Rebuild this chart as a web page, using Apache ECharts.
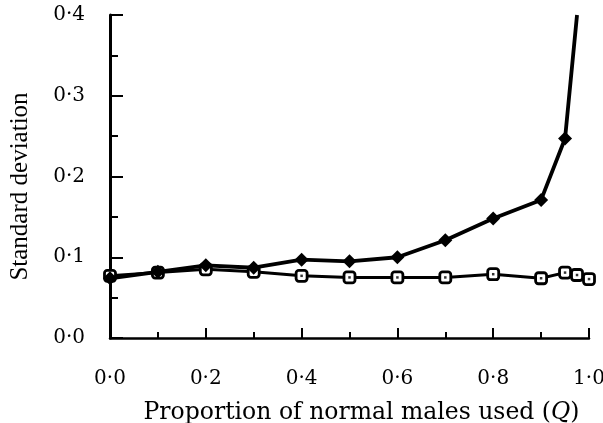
<!DOCTYPE html>
<html>
<head>
<meta charset="utf-8">
<script src="https://cdn.jsdelivr.net/npm/echarts@6/dist/echarts.min.js"></script>
<style>
  html, body { margin: 0; padding: 0; background: #fff; }
  #chart { width: 603px; height: 423px; }
</style>
</head>
<body>
<div id="chart"></div>
<script>
// Proportion of normal males used (Q)
const qFilled = [0.0, 0.1, 0.2, 0.3, 0.4, 0.5, 0.6, 0.7, 0.8, 0.9, 0.95, 0.975];
const sdFilled = [0.074, 0.082, 0.090, 0.087, 0.097, 0.095, 0.100, 0.121, 0.148, 0.171, 0.247, 0.400];

const qOpen = [0.0, 0.1, 0.2, 0.3, 0.4, 0.5, 0.6, 0.7, 0.8, 0.9, 0.95, 0.975, 1.0];
const sdOpen = [0.077, 0.081, 0.085, 0.082, 0.077, 0.075, 0.075, 0.075, 0.079, 0.074, 0.081, 0.078, 0.073];

const xTicks = [0.0, 0.2, 0.4, 0.6, 0.8, 1.0];
const yTicks = [0.0, 0.1, 0.2, 0.3, 0.4];

const serif = '"DejaVu Serif", "Liberation Serif", serif';
const fmt = v => v.toFixed(1).replace('.', '\u00B7');

const pairs = (xs, ys) => xs.map((x, i) => [x, ys[i]]);
const filledData = pairs(qFilled, sdFilled).map((p, i, arr) =>
  i === arr.length - 1 ? { value: p, symbol: 'none' } : p);
const openData = pairs(qOpen, sdOpen);

const chart = echarts.init(document.getElementById('chart'));
chart.setOption({
  animation: false,
  backgroundColor: '#fff',
  grid: { left: 110, right: 14, top: 15, bottom: 85, outerBoundsMode: 'none', containLabel: false },
  xAxis: {
    type: 'value',
    min: xTicks[0],
    max: xTicks[xTicks.length - 1],
    interval: 0.2,
    splitLine: { show: false },
    axisLine: { show: true, lineStyle: { color: '#000', width: 2.5 } },
    axisTick: { show: true, inside: true, length: 10, lineStyle: { color: '#000', width: 2 } },
    minorTick: { show: true, splitNumber: 2, length: 6, lineStyle: { color: '#000', width: 2 } },
    axisLabel: { margin: 31, color: '#000', fontFamily: serif, fontSize: 20, formatter: fmt },
    name: 'Proportion of normal males used ({q|Q})',
    nameLocation: 'middle',
    nameGap: 63,
    nameTextStyle: {
      color: '#000', fontFamily: serif, fontSize: 23.5, padding: [0, 0, 0, 24],
      rich: { q: { fontFamily: serif, fontSize: 23.5, fontStyle: 'italic', color: '#000' } }
    }
  },
  yAxis: {
    type: 'value',
    min: yTicks[0],
    max: yTicks[yTicks.length - 1],
    interval: 0.1,
    splitLine: { show: false },
    axisLine: { show: true, lineStyle: { color: '#000', width: 3 } },
    axisTick: { show: true, inside: true, length: 13, lineStyle: { color: '#000', width: 2 } },
    minorTick: { show: true, splitNumber: 2, length: 8, lineStyle: { color: '#000', width: 2 } },
    axisLabel: { margin: 25, color: '#000', fontFamily: serif, fontSize: 20, formatter: fmt },
    name: 'Standard deviation',
    nameLocation: 'middle',
    nameRotate: 90,
    nameGap: 77,
    nameTextStyle: { color: '#000', fontFamily: '"Liberation Serif", serif', fontSize: 25, padding: [0, 20, 0, 0] }
  },
  series: [
    {
      name: 'open',
      type: 'line',
      data: openData,
      z: 2,
      symbol: 'roundRect',
      symbolSize: 11,
      lineStyle: { color: '#000', width: 3 },
      itemStyle: { color: '#fff', borderColor: '#000', borderWidth: 2.8 }
    },
    {
      name: 'open-dot',
      type: 'scatter',
      data: openData,
      z: 3,
      symbol: 'rect',
      symbolSize: 2.5,
      itemStyle: { color: '#000' }
    },
    {
      name: 'filled',
      type: 'line',
      data: filledData,
      z: 4,
      symbol: 'diamond',
      symbolSize: 14,
      lineStyle: { color: '#000', width: 3.8 },
      itemStyle: { color: '#000' }
    }
  ]
});
</script>
</body>
</html>
